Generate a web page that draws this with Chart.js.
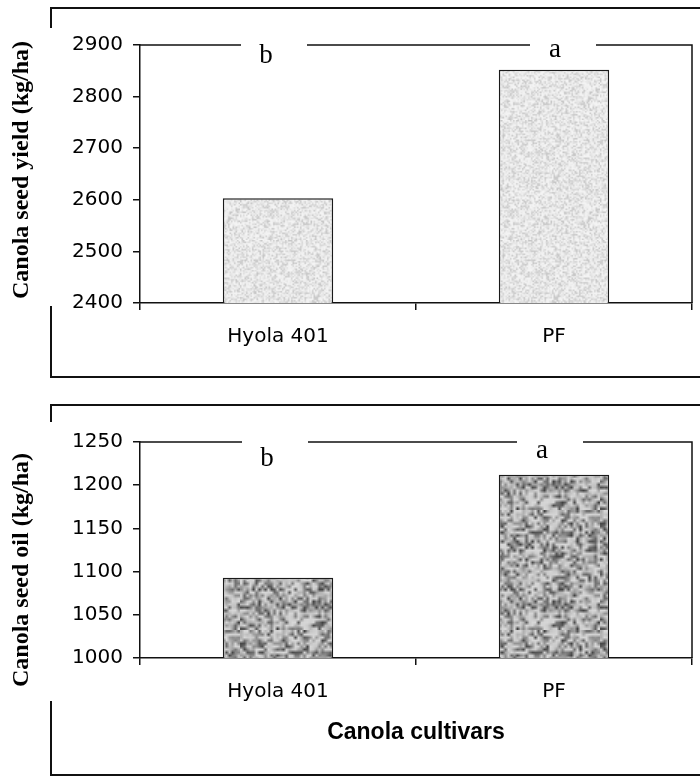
<!DOCTYPE html>
<html>
<head>
<meta charset="utf-8">
<script src="https://cdn.jsdelivr.net/npm/chart.js@4.4.0/dist/chart.umd.min.js"></script>
<style>
    html, body { margin: 0; padding: 0; background: #fff; }
    #wrap { position: relative; width: 700px; height: 778px; }
    .panel { position: absolute; left: 0; width: 700px; }
</style>
</head>
<body>
<div id="wrap">
    <div class="panel" style="top:0;height:390px"><canvas id="yieldChart" width="700" height="390"></canvas></div>
    <div class="panel" style="top:390px;height:388px"><canvas id="oilChart" width="700" height="388"></canvas></div>
</div>
<script>
//data
var cultivars = ['Hyola 401', 'PF'];
var seedYield = [2603, 2852];
var seedOil = [1093, 1212];
var yieldLetters = ['b', 'a'];
var oilLetters = ['b', 'a'];
var yieldTicks = [2400, 2900, 100]; //min, max, step
var oilTicks = [1000, 1250, 50];

var tickFont = { family: '"DejaVu Sans", Verdana, sans-serif', size: 20 };

//================================================================================
// stippled fill, like the old spreadsheet texture
//================================================================================
function speckle (canvasId, seed, hi, depth, grain) {
    var n = Math.round(120 / grain);
    var small = document.createElement('canvas');
    small.width = n;
    small.height = n;
    var g = small.getContext('2d');
    var s = seed;
    function next () { s = (s * 16807) % 2147483647; return s / 2147483647; }
    for (var y = 0; y < n; y++) {
        for (var x = 0; x < n; x++) {
            var r = next();
            var v = Math.round(hi - depth * r * r);
            g.fillStyle = 'rgb(' + v + ',' + v + ',' + v + ')';
            g.fillRect(x, y, 1, 1);
        }
    }
    var c = document.createElement('canvas');
    c.width = 120;
    c.height = 120;
    var cg = c.getContext('2d');
    cg.imageSmoothingEnabled = true;
    cg.drawImage(small, 0, 0, 120, 120);
    return document.getElementById(canvasId).getContext('2d').createPattern(c, 'repeat');
}

//================================================================================
// frame, top edge with letter gaps, y title
//================================================================================
var framePlugin = {
    id: 'frame',
    beforeDraw: function (chart, args, o) {
        var ctx = chart.ctx;
        ctx.save();
        ctx.strokeStyle = '#111';
        ctx.lineWidth = 2;
        ctx.beginPath();
        ctx.moveTo(chart.width, o.top);
        ctx.lineTo(51, o.top);
        ctx.lineTo(51, o.gapFrom);
        ctx.moveTo(51, o.gapTo);
        ctx.lineTo(51, o.bottom);
        ctx.lineTo(chart.width, o.bottom);
        ctx.stroke();

        ctx.translate(22, o.titleY);
        ctx.rotate(-Math.PI / 2);
        ctx.font = 'bold 24px "Liberation Serif", "Times New Roman", serif';
        ctx.fillStyle = '#000';
        ctx.textAlign = 'center';
        ctx.textBaseline = 'middle';
        ctx.fillText(o.title, 0, 0);
        ctx.restore();
    },
    afterDatasetsDraw: function (chart, args, o) {
        var ctx = chart.ctx;
        var area = chart.chartArea;
        var xs = chart.scales.x;
        var gaps = [];
        for (var i = 0; i < o.letters.length; i++) {
            var cx = xs.getPixelForValue(i) + o.dx[i];
            gaps.push([cx + 8 - 33, cx + 8 + 33, cx]);
        }
        ctx.save();
        ctx.strokeStyle = '#111';
        ctx.lineWidth = 1.5;
        ctx.beginPath();
        var from = area.left;
        for (var j = 0; j < gaps.length; j++) {
            ctx.moveTo(from, area.top);
            ctx.lineTo(gaps[j][0], area.top);
            from = gaps[j][1];
        }
        ctx.moveTo(from, area.top);
        ctx.lineTo(area.right, area.top);
        ctx.lineTo(area.right, area.bottom);
        ctx.stroke();

        ctx.font = '27px "Liberation Serif", "Times New Roman", serif';
        ctx.fillStyle = '#000';
        ctx.textAlign = 'center';
        ctx.textBaseline = 'alphabetic';
        for (var k = 0; k < gaps.length; k++) {
            ctx.fillText(o.letters[k], gaps[k][2], area.top + o.dy[k]);
        }
        ctx.restore();
    }
};

function barChart (canvasId, values, ticks, fill, frame, pad, xHeight, xTitle) {
    return new Chart(document.getElementById(canvasId), {
        type: 'bar',
        data: {
            labels: cultivars,
            datasets: [{
                data: values,
                backgroundColor: fill,
                borderColor: '#1a1a1a',
                borderWidth: 1.5,
                borderSkipped: false,
                categoryPercentage: 1.0,
                barPercentage: 0.4
            }]
        },
        options: {
            responsive: false,
            animation: false,
            layout: { padding: pad },
            plugins: { legend: { display: false }, tooltip: { enabled: false }, frame: frame },
            scales: {
                x: {
                    afterFit: function (scale) { scale.height = xHeight; },
                    grid: { offset: true, drawOnChartArea: false, color: '#111', tickLength: 7, lineWidth: 1.5 },
                    border: { display: true, color: '#111', width: 1.5 },
                    ticks: { color: '#000', font: tickFont, padding: 15 },
                    title: {
                        display: !!xTitle,
                        text: xTitle || '',
                        color: '#000',
                        font: { family: '"Liberation Sans", Arial, sans-serif', size: 23, weight: 'bold' },
                        padding: 0
                    }
                },
                y: {
                    min: ticks[0],
                    max: ticks[1],
                    afterFit: function (scale) { scale.width = 140; },
                    grid: { drawOnChartArea: false, color: '#111', tickLength: 7, lineWidth: 1.5 },
                    border: { display: true, color: '#111', width: 1.5 },
                    ticks: {
                        stepSize: ticks[2],
                        color: '#000',
                        font: tickFont,
                        padding: 10,
                        callback: function (v) { return String(v); }
                    }
                }
            }
        },
        plugins: [framePlugin]
    });
}

//================================================================================
// the two panels
//================================================================================
barChart('yieldChart', seedYield, yieldTicks,
    speckle('yieldChart', 12345, 245, 50, 1.5),
    { top: 8, bottom: 377, gapFrom: 28, gapTo: 306, titleY: 170,
      title: 'Canola seed yield (kg/ha)', letters: yieldLetters, dx: [-12, 1], dy: [18, 12] },
    { left: 0, top: 45, right: 8, bottom: 0 }, 87, '');

barChart('oilChart', seedOil, oilTicks,
    speckle('oilChart', 67890, 215, 150, 3),
    { top: 15, bottom: 385, gapFrom: 32, gapTo: 311, titleY: 180,
      title: 'Canola seed oil (kg/ha)', letters: oilLetters, dx: [-11, -12], dy: [24, 16] },
    { left: 0, top: 52, right: 8, bottom: 32 }, 88, 'Canola cultivars');
</script>
</body>
</html>
